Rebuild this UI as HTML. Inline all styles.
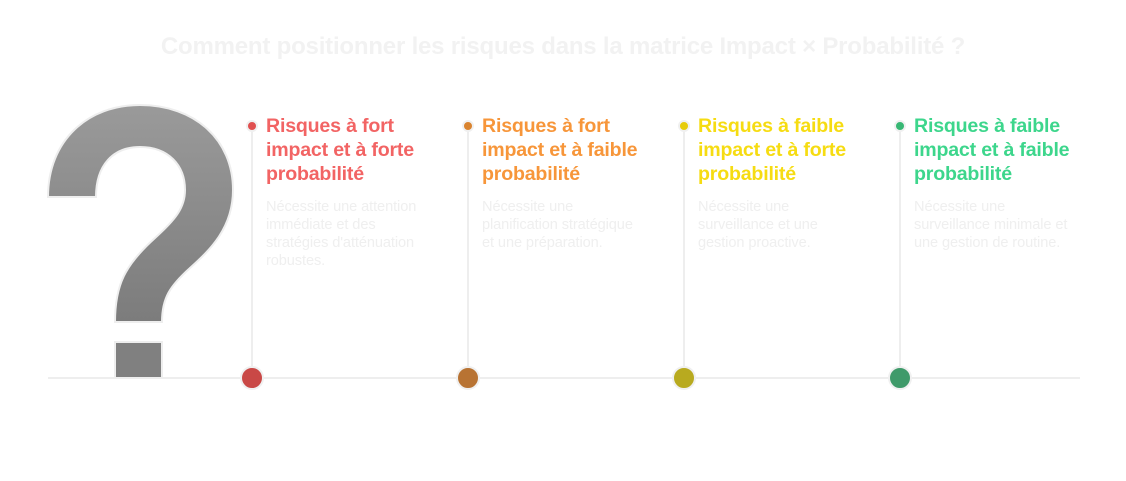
<!DOCTYPE html>
<html><head><meta charset="utf-8"><style>
body{margin:0;width:1126px;height:481px;background:#fff;position:relative;overflow:hidden;font-family:"Liberation Sans",sans-serif}
.t{position:absolute;top:33px;left:0;width:1126px;text-align:center;font-size:24px;font-weight:bold;color:#f2f2f2;letter-spacing:-0.2px}
.h{position:absolute;top:114px;font-size:19.6px;font-weight:bold;line-height:24px;letter-spacing:-0.2px;white-space:nowrap}
.d{position:absolute;top:198px;font-size:14.6px;line-height:18px;color:#efefef;white-space:nowrap;letter-spacing:-0.1px}
</style></head><body>
<div class="t">Comment positionner les risques dans la matrice Impact × Probabilité ?</div>
<svg width="1126" height="481" style="position:absolute;left:0;top:0">
<defs><linearGradient id="g" x1="0" y1="0" x2="0" y2="1"><stop offset="0" stop-color="#9a9a9a"/><stop offset="1" stop-color="#7c7c7c"/></linearGradient></defs>
<line x1="48" y1="378" x2="1080" y2="378" stroke="#eeeeee" stroke-width="2"/>
<path d="M48,197 C48,140 88,105 140,105 C195,105 233,140 233,190 C233,228 210,250 190,268 C170,286 162,298 162,322 L115,322 C115,285 125,265 155,238 C175,220 185,208 185,190 C185,165 168,147 140,147 C113,147 96,165 96,197 Z" fill="url(#g)" stroke="#eeeeee" stroke-width="2"/>
<rect x="115" y="342" width="47" height="36" fill="#808080" stroke="#eeeeee" stroke-width="2"/>
<g stroke="#eeeeee" stroke-width="2">
<line x1="252" y1="126" x2="252" y2="378"/><line x1="468" y1="126" x2="468" y2="378"/>
<line x1="684" y1="126" x2="684" y2="378"/><line x1="900" y1="126" x2="900" y2="378"/>
</g>
<g stroke="#f0f0f0" stroke-width="2">
<circle cx="252" cy="126" r="5" fill="#e05050"/><circle cx="468" cy="126" r="5" fill="#d9832f"/>
<circle cx="684" cy="126" r="5" fill="#e6cc0a"/><circle cx="900" cy="126" r="5" fill="#38b774"/>
<circle cx="252" cy="378" r="11" fill="#c94846"/><circle cx="468" cy="378" r="11" fill="#b87333"/>
<circle cx="684" cy="378" r="11" fill="#b8aa1f"/><circle cx="900" cy="378" r="11" fill="#3f9a6a"/>
</g>
</svg>
<div class="h" style="left:266px;color:#f26464">Risques à fort<br>impact et à forte<br>probabilité</div>
<div class="h" style="left:482px;color:#f7963a">Risques à fort<br>impact et à faible<br>probabilité</div>
<div class="h" style="left:698px;color:#f6dc12">Risques à faible<br>impact et à forte<br>probabilité</div>
<div class="h" style="left:914px;color:#3dd68c">Risques à faible<br>impact et à faible<br>probabilité</div>
<div class="d" style="left:266px">Nécessite une attention<br>immédiate et des<br>stratégies d'atténuation<br>robustes.</div>
<div class="d" style="left:482px">Nécessite une<br>planification stratégique<br>et une préparation.</div>
<div class="d" style="left:698px">Nécessite une<br>surveillance et une<br>gestion proactive.</div>
<div class="d" style="left:914px">Nécessite une<br>surveillance minimale et<br>une gestion de routine.</div>
</body></html>
